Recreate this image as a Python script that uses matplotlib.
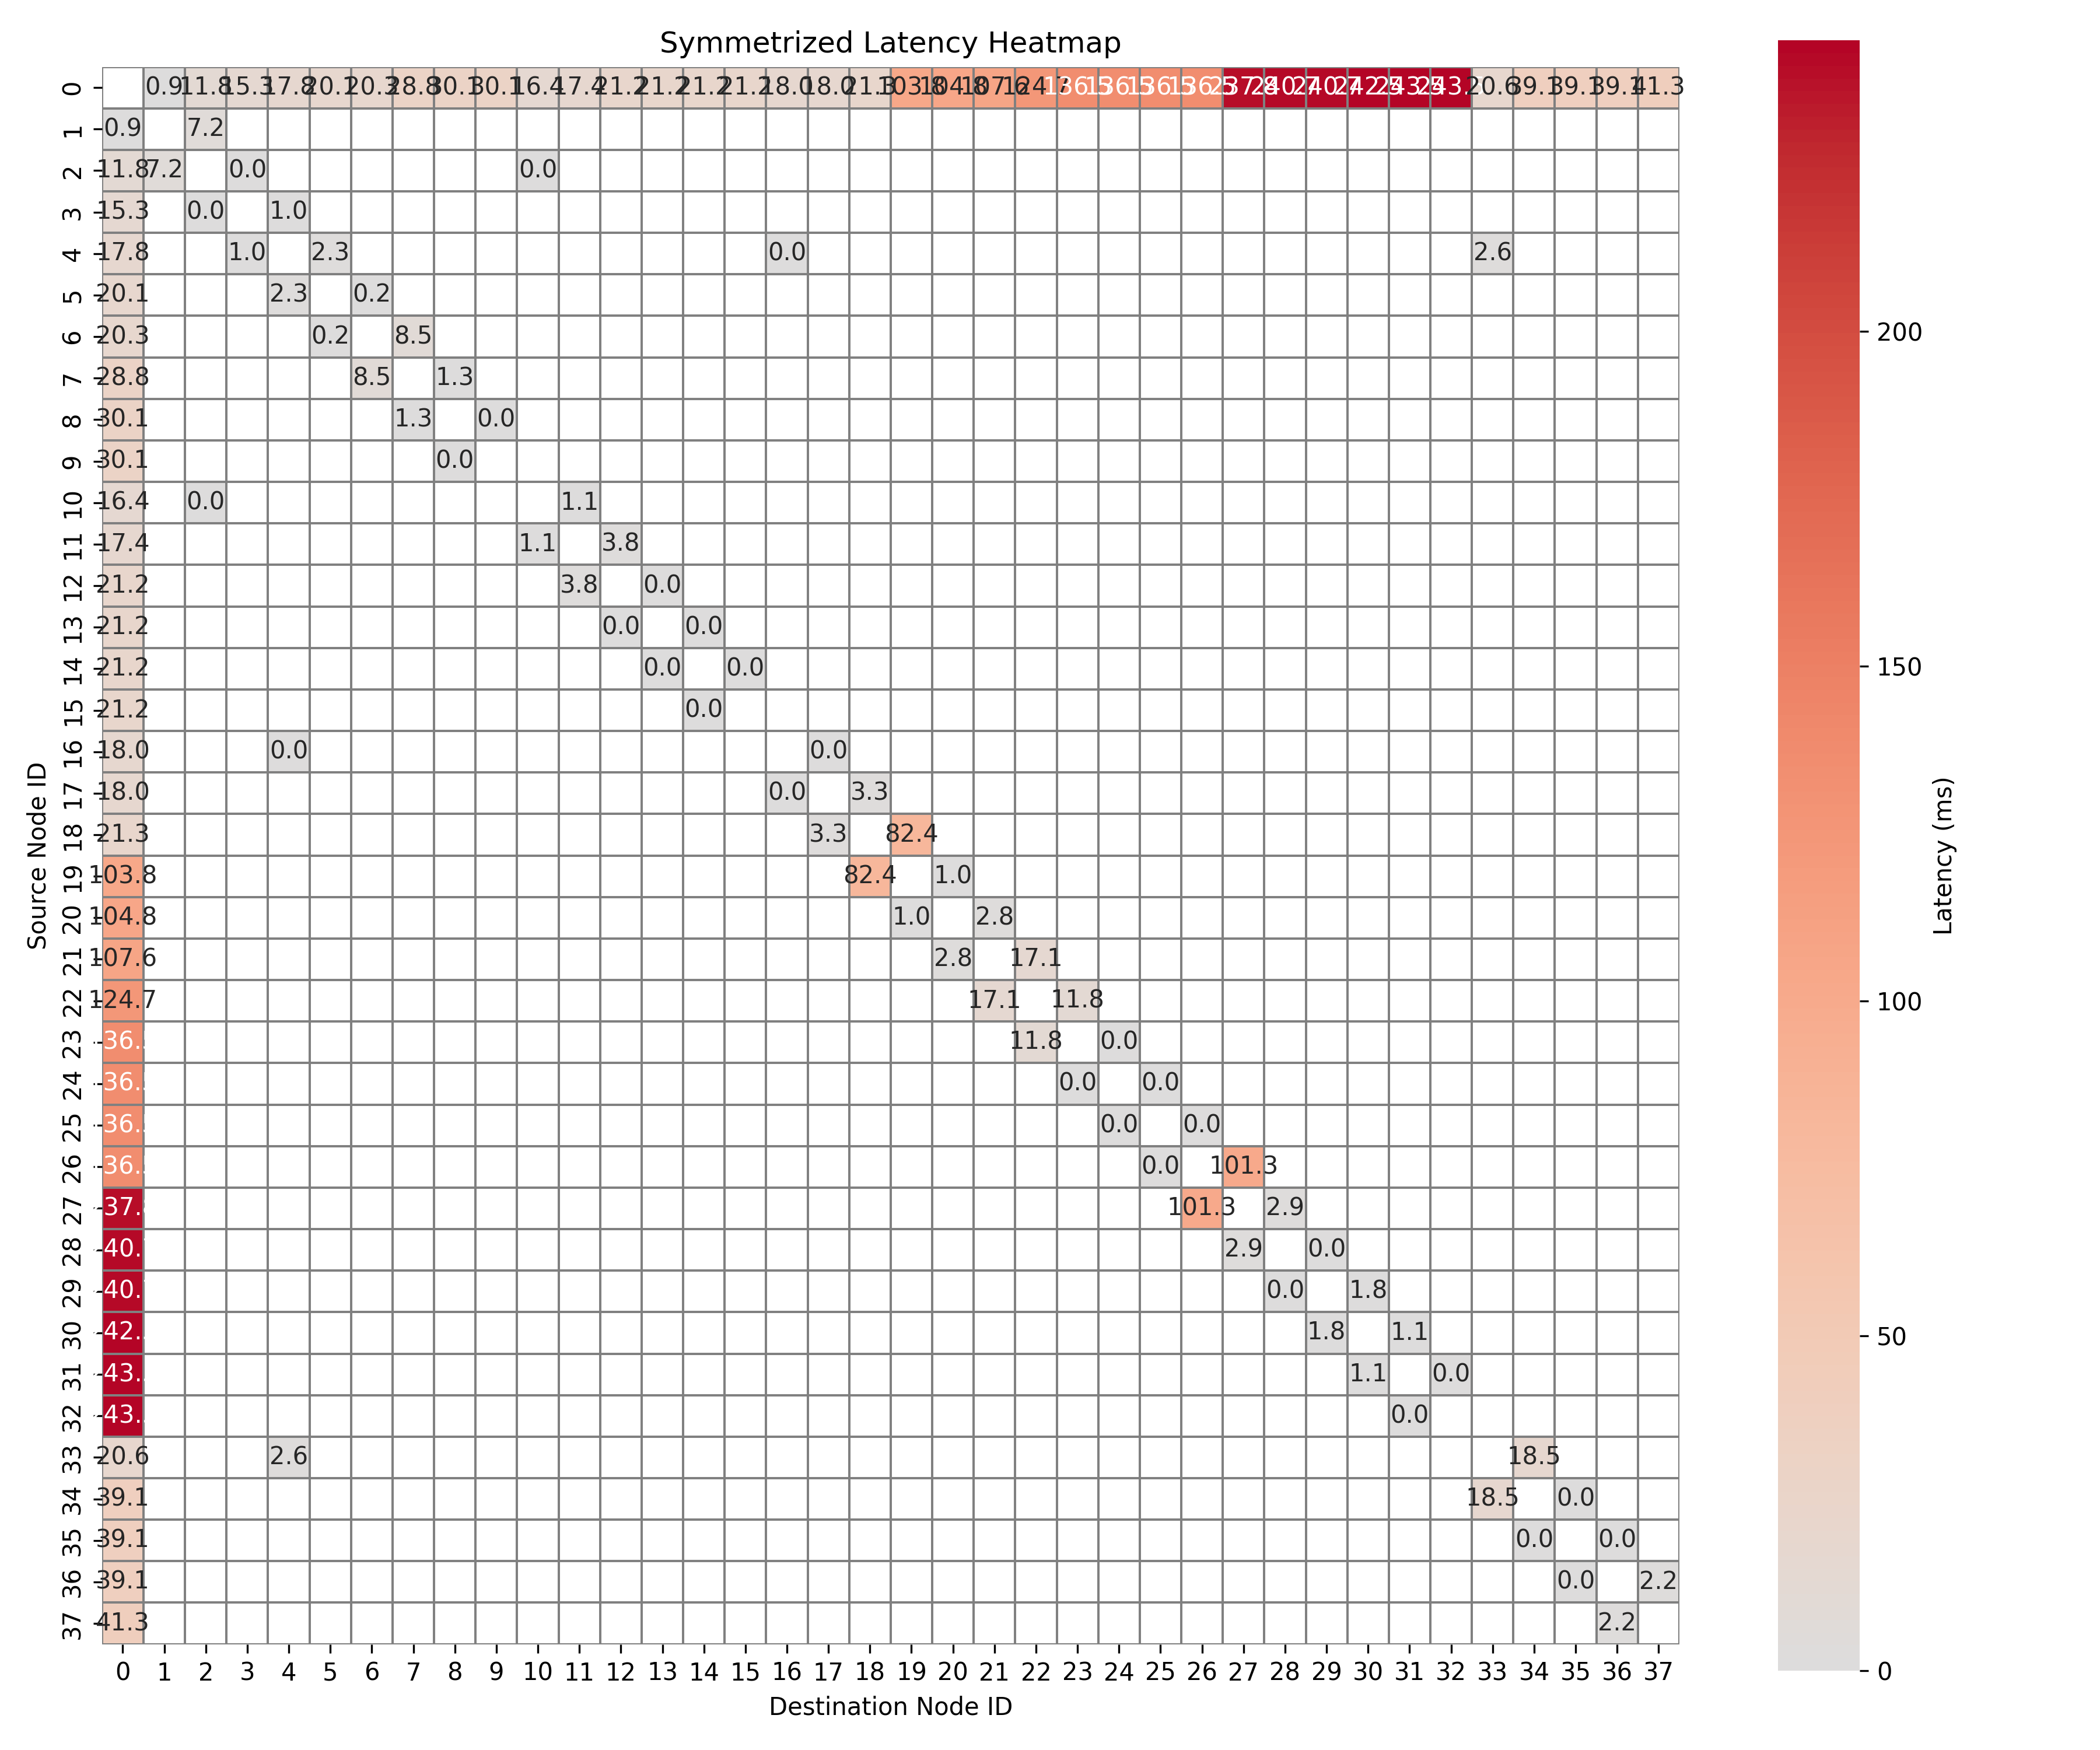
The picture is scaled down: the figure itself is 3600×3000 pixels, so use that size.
import numpy as np
import pandas as pd
import matplotlib
matplotlib.use("Agg")
import matplotlib.pyplot as plt
import seaborn as sns

n_nodes = 38

# latency from node 0 to every other node (ms)
root_latency = [0.9, 11.8, 15.3, 17.8, 20.1, 20.3, 28.8, 30.1, 30.1, 16.4,
                17.4, 21.2, 21.2, 21.2, 21.2, 18.0, 18.0, 21.3, 103.8, 104.8,
                107.6, 124.7, 136.5, 136.5, 136.5, 136.5, 237.8, 240.7, 240.7,
                242.5, 243.5, 243.5, 20.6, 39.1, 39.1, 39.1, 41.3]

# other links: source, destination, latency
link_src = [1, 2, 2, 3, 4, 4, 4, 5, 6, 7, 8, 10, 11, 12, 13, 14, 16, 17, 18,
            19, 20, 21, 22, 23, 24, 25, 26, 27, 28, 29, 30, 31, 33, 34, 35, 36]
link_dst = [2, 3, 10, 4, 5, 16, 33, 6, 7, 8, 9, 11, 12, 13, 14, 15, 17, 18, 19,
            20, 21, 22, 23, 24, 25, 26, 27, 28, 29, 30, 31, 32, 34, 35, 36, 37]
link_lat = [7.2, 0.0, 0.0, 1.0, 2.3, 0.0, 2.6, 0.2, 8.5, 1.3, 0.0, 1.1, 3.8,
            0.0, 0.0, 0.0, 0.0, 3.3, 82.4, 1.0, 2.8, 17.1, 11.8, 0.0, 0.0, 0.0,
            101.3, 2.9, 0.0, 1.8, 1.1, 0.0, 18.5, 0.0, 0.0, 2.2]

mat = np.full((n_nodes, n_nodes), np.nan)
for j, v in enumerate(root_latency, start=1):
    mat[0, j] = v
    mat[j, 0] = v
for s, d, v in zip(link_src, link_dst, link_lat):
    mat[s, d] = v
    mat[d, s] = v

df = pd.DataFrame(mat, index=range(n_nodes), columns=range(n_nodes))

fig, ax = plt.subplots(figsize=(12, 10), dpi=300)
sns.heatmap(df, mask=df.isna(), cmap="coolwarm", center=0, annot=True,
            fmt=".1f", linewidths=0.5, linecolor="gray", square=True,
            cbar_kws={"label": "Latency (ms)"}, ax=ax)
ax.set_title("Symmetrized Latency Heatmap")
ax.set_xlabel("Destination Node ID")
ax.set_ylabel("Source Node ID")
plt.tight_layout()
plt.savefig("out.png")
